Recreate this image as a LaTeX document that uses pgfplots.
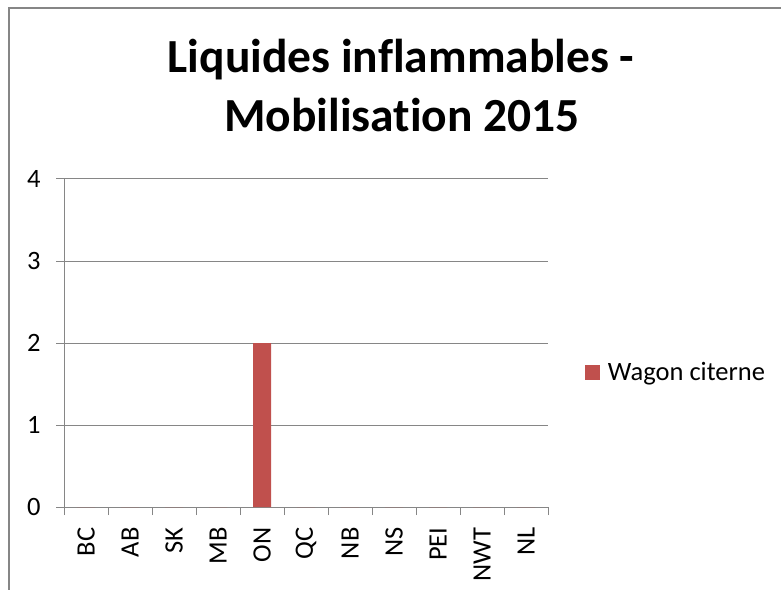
\documentclass[border=0pt]{standalone}
\usepackage{pgfplots}
\pgfplotsset{compat=1.18}
\usepackage{fontspec}
\setmainfont[Ligatures=NoCommon]{Carlito}
\definecolor{barred}{HTML}{C0504D}
\definecolor{axgray}{HTML}{868686}
\begin{document}
\begin{tikzpicture}[x=1pt,y=1pt]
\path[use as bounding box] (0,0) rectangle (781,589);
\draw[axgray, line width=1.5pt] (9,-5) -- (9,581) -- (790,581);
\node[anchor=base, font=\fontsize{47.5}{56}\selectfont\bfseries] at (401,516) {Liquides inflammables -};
\node[anchor=base, font=\fontsize{47.5}{56}\selectfont\bfseries] at (402,457) {Mobilisation 2015};
\begin{axis}[
  at={(64pt,82pt)}, anchor=south west,
  scale only axis, width=484pt, height=328pt,
  ybar, bar width=18pt,
  xmin=-0.5, xmax=10.5, ymin=0, ymax=4,
  ytick={0,1,2,3,4},
  xtick={0,...,10},
  xticklabels={BC,AB,SK,MB,ON,QC,NB,NS,PEI,NWT,NL},
  minor xtick={-0.5,0.5,...,10.5},
  axis lines=left, axis line style={-, draw=axgray, line width=1pt},
  tick align=outside, major tick length=8pt, minor tick length=8pt,
  major x tick style={draw=none},
  minor x tick style={draw=axgray, line width=1pt},
  major y tick style={draw=axgray, line width=1pt},
  ymajorgrids, major grid style={draw=axgray, line width=1pt},
  tick label style={font=\fontsize{26.5}{30}\selectfont},
  /pgf/number format/assume math mode=true,
  xticklabel style={rotate=90, anchor=east, xshift=-9pt},
  yticklabel style={xshift=-12pt},
  legend style={draw=none, fill=none, at={(1.076,0.41)}, anchor=west,
    font=\fontsize{26.5}{30}\selectfont, inner sep=0pt},
  legend cell align=left,
  legend image code/.code={\fill[#1] (0pt,-7.5pt) rectangle (15pt,7.5pt); \path (21pt,0pt);},
]
\addplot[fill=barred, draw=none] coordinates {(0,0) (1,0) (2,0) (3,0) (4,2) (5,0) (6,0) (7,0) (8,0) (9,0) (10,0)};
\addlegendentry{Wagon citerne}
\end{axis}
\end{tikzpicture}
\end{document}
